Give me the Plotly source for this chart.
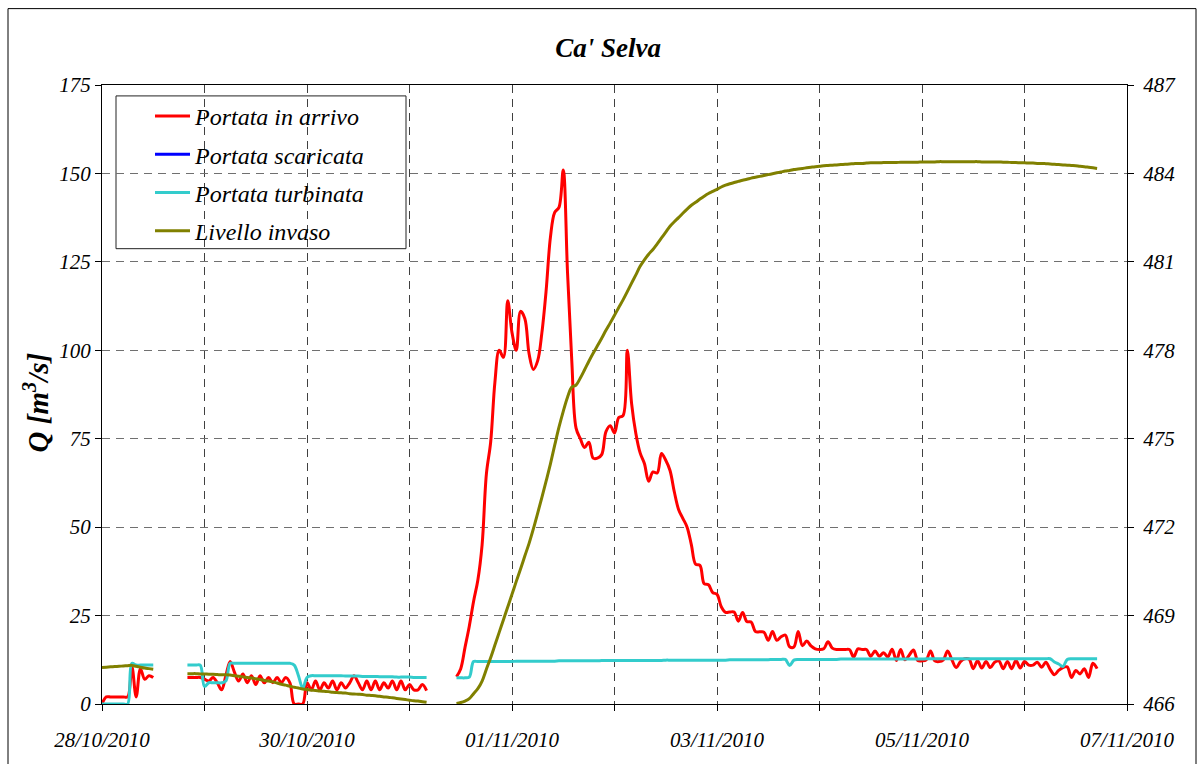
import pandas as pd
import plotly.graph_objects as go

# Hourly records, split into the three continuous recording periods
segment_starts = ["2010-10-28 00:00", "2010-10-28 20:00", "2010-10-31 11:00"]

# Portata in arrivo [m3/s]
q_arrivo_1 = [0, 2, 2, 2, 2, 2, 2, 10.5, 2, 10, 7, 8, 7.5]
q_arrivo_2 = [
    7.5, 7.5, 7.5, 7.5, 7, 6.5, 7.5, 6, 4, 8,
    12, 9, 6.5, 8.5, 6, 8, 5.5, 8, 6, 7.5,
    6, 7.5, 6, 7.5, 6, 0, 0, 0, 6, 4,
    6.5, 4, 6, 4.5, 6.5, 4, 6, 4.5, 6, 8,
    6, 4, 6.5, 4, 6.5, 4, 6, 4.5, 6.5, 4,
    6.5, 4, 5.5, 4, 4, 5.5, 3.8,
]
q_arrivo_3 = [
    7.7, 10, 16, 22, 29, 35, 45, 65, 74, 91,
    100, 98, 114, 105, 100, 111, 109, 99, 94.6, 97,
    105, 117, 132, 139, 140.4, 151, 122, 97, 78, 75,
    72.5, 74, 69.5, 69.5, 70.5, 77, 78.7, 76.6, 81, 81.5,
    100, 85, 76.5, 71, 68, 63, 65.6, 65.3, 70.8, 68.9,
    66, 60, 55, 52.5, 50, 45, 39.5, 39.2, 34, 33.7,
    31.5, 31, 27.5, 25.9, 26, 26, 23.4, 25.9, 23.3, 23.2,
    20.5, 20.4, 20.3, 18, 20.5, 18, 19, 19.5, 16.2, 16.1,
    20.5, 16.5, 17.8, 16.4, 15.6, 15.4, 15.6, 17.6, 15.8, 15.4,
    15.4, 15.4, 15.4, 13.3, 15.6, 15.4, 15.4, 13.5, 15, 13.5,
    14.5, 13.3, 15.5, 12.3, 15.4, 12.5, 13.8, 15.3, 12.3, 12.2,
    12.5, 15, 12.2, 12, 12.5, 15, 12.5, 10.3, 12, 12.8,
    12.7, 10, 12.2, 10.2, 12, 10.3, 11.8, 12.2, 10, 12,
    10, 12.3, 10.2, 12, 11, 11, 11.8, 10.4, 11.8, 9.8,
    8.3, 9.5, 10.3, 10.5, 7.5, 9.5, 8.5, 10, 7.5, 11.5, 10,
]

# Portata scaricata [m3/s]: no discharge recorded in the period
t_scaricata = ["2010-10-28 00:00"]
q_scaricata = [None]

# Portata turbinata [m3/s]
q_turbinata_1 = [0, 0, 0, 0, 0, 0, 0, 11.5, 11, 11, 11, 11, 11]
q_turbinata_2 = [
    11, 11, 11, 11, 5, 6, 6, 6, 6, 6.5,
    11.5, 11.5, 11.5, 11.5, 11.5, 11.5, 11.5, 11.5, 11.5, 11.5,
    11.5, 11.5, 11.5, 11.5, 11.5, 11, 8, 4.5, 7.5, 8,
    8, 8, 8, 8, 8, 8, 8, 7.9, 7.9, 7.9,
    7.9, 7.8, 7.8, 7.8, 7.8, 7.7, 7.7, 7.7, 7.7, 7.6,
    7.6, 7.6, 7.6, 7.5, 7.5, 7.5, 7.5,
]
q_turbinata_3 = [
    7.4, 7.4, 7.4, 7.6, 12.0, 12.0, 12.0, 12.0, 12.0, 12.0,
    12.0, 12.0, 12.0, 12.0, 12.1, 12.1, 12.1, 12.1, 12.1, 12.1,
    12.1, 12.1, 12.1, 12.1, 12.2, 12.2, 12.2, 12.2, 12.2, 12.2,
    12.2, 12.2, 12.2, 12.2, 12.3, 12.3, 12.3, 12.3, 12.3, 12.3,
    12.3, 12.3, 12.3, 12.3, 12.3, 12.3, 12.3, 12.3, 12.3, 12.4,
    12.4, 12.4, 12.4, 12.4, 12.4, 12.4, 12.4, 12.4, 12.4, 12.4,
    12.4, 12.4, 12.4, 12.4, 12.5, 12.5, 12.5, 12.5, 12.5, 12.5,
    12.5, 12.5, 12.5, 12.5, 12.6, 12.6, 12.6, 12.6, 10.9, 12.4,
    12.6, 12.6, 12.6, 12.6, 12.6, 12.6, 12.6, 12.6, 12.6, 12.6,
    12.7, 12.7, 12.7, 12.7, 12.7, 12.7, 12.7, 12.7, 12.7, 12.7,
    12.7, 12.7, 12.7, 12.7, 12.7, 12.7, 12.7, 12.7, 12.7, 12.7,
    12.8, 12.8, 12.8, 12.8, 12.8, 12.8, 12.8, 12.8, 12.8, 12.8,
    12.8, 12.8, 12.8, 12.8, 12.8, 12.8, 12.8, 12.8, 12.8, 12.8,
    12.8, 12.8, 12.8, 12.8, 12.8, 12.8, 12.8, 12.8, 12.8, 12.8,
    11.9, 11.3, 10.6, 12.6, 12.8, 12.8, 12.8, 12.8, 12.8, 12.8, 12.8,
]

# Livello invaso [m s.l.m.]
livello_1 = [467.24, 467.25, 467.26, 467.27, 467.28, 467.29, 467.30,
             467.31, 467.28, 467.25, 467.22, 467.20, 467.18]
livello_2 = [
    467.03, 467.03, 467.03, 467.02, 467.02, 467.01, 467.01, 467.00, 466.99, 466.99,
    466.98, 466.96, 466.94, 466.92, 466.90, 466.88, 466.86, 466.83, 466.80, 466.78,
    466.75, 466.71, 466.67, 466.64, 466.60, 466.57, 466.54, 466.51, 466.49, 466.47,
    466.46, 466.44, 466.43, 466.42, 466.40, 466.39, 466.38, 466.37, 466.35, 466.34,
    466.33, 466.32, 466.30, 466.29, 466.28, 466.26, 466.24, 466.23, 466.21, 466.19,
    466.17, 466.15, 466.13, 466.11, 466.10, 466.08, 466.06,
]
livello_3 = [
    466.02, 466.05, 466.10, 466.18, 466.35, 466.52, 466.78, 467.18, 467.57, 468.00,
    468.43, 468.86, 469.29, 469.72, 470.16, 470.58, 471.02, 471.45, 471.94, 472.47,
    473.01, 473.57, 474.15, 474.78, 475.39, 475.93, 476.41, 476.75, 476.82, 477.06,
    477.34, 477.63, 477.90, 478.15, 478.41, 478.68, 478.93, 479.19, 479.45, 479.71,
    479.99, 480.28, 480.56, 480.85, 481.07, 481.26, 481.42, 481.61, 481.81, 482.01,
    482.21, 482.36, 482.50, 482.65, 482.79, 482.92, 483.02, 483.13, 483.23, 483.32,
    483.39, 483.46, 483.54, 483.60, 483.65, 483.69, 483.73, 483.77, 483.80, 483.84,
    483.87, 483.90, 483.93, 483.96, 483.99, 484.02, 484.05, 484.08, 484.10, 484.13,
    484.15, 484.17, 484.19, 484.21, 484.23, 484.24, 484.26, 484.27, 484.28, 484.29,
    484.30, 484.31, 484.32, 484.33, 484.34, 484.34, 484.35, 484.36, 484.36, 484.36,
    484.37, 484.37, 484.37, 484.37, 484.38, 484.38, 484.38, 484.38, 484.38, 484.39,
    484.39, 484.39, 484.39, 484.40, 484.40, 484.40, 484.40, 484.40, 484.40, 484.40,
    484.40, 484.40, 484.40, 484.39, 484.39, 484.39, 484.39, 484.39, 484.38, 484.38,
    484.37, 484.37, 484.36, 484.36, 484.35, 484.35, 484.34, 484.34, 484.33, 484.32,
    484.31, 484.30, 484.29, 484.28, 484.27, 484.26, 484.24, 484.23, 484.21, 484.19, 484.17,
]

# Axis ticks
day_ticks = pd.date_range("2010-10-28", "2010-11-07", freq="D")
day_labels = [d.strftime("%d/%m/%Y") if i % 2 == 0 else "" for i, d in enumerate(day_ticks)]
q_ticks = [0, 25, 50, 75, 100, 125, 150, 175]
level_ticks = [466, 469, 472, 475, 478, 481, 484, 487]


def join_segments(segments):
    """Hourly timestamps for each segment, with a break between segments."""
    xs, ys = [], []
    for start, vals in zip(segment_starts, segments):
        times = pd.date_range(start, periods=len(vals), freq="h")
        if xs:
            xs.append(times[0] - pd.Timedelta(minutes=30))
            ys.append(None)
        xs.extend(times)
        ys.extend(vals)
    return xs, ys


FONT = "'Liberation Serif', 'Times New Roman', 'DejaVu Serif', serif"

t_arr, v_arr = join_segments([q_arrivo_1, q_arrivo_2, q_arrivo_3])
t_tur, v_tur = join_segments([q_turbinata_1, q_turbinata_2, q_turbinata_3])
t_liv, v_liv = join_segments([livello_1, livello_2, livello_3])

fig = go.Figure()
fig.add_trace(go.Scatter(
    x=t_arr, y=v_arr, mode="lines", name="Portata in arrivo",
    line=dict(color="#FF0000", width=3, shape="spline"), legendgroup="a",
))
fig.add_trace(go.Scatter(
    x=t_scaricata, y=q_scaricata, mode="lines", name="Portata scaricata",
    line=dict(color="#0000FF", width=3), legendgroup="b",
))
fig.add_trace(go.Scatter(
    x=t_tur, y=v_tur, mode="lines", name="Portata turbinata",
    line=dict(color="#33CCCC", width=3, shape="spline"), legendgroup="c",
))
fig.add_trace(go.Scatter(
    x=t_liv, y=v_liv, mode="lines", name="Livello invaso", yaxis="y2",
    line=dict(color="#808000", width=3, shape="spline"), legendgroup="d",
))

tickfont = dict(family=FONT, size=21, color="black", style="italic")

fig.update_layout(
    width=1203, height=764,
    margin=dict(l=102, r=76, t=85, b=55),
    paper_bgcolor="white", plot_bgcolor="white",
    title=dict(
        text="<b><i>Ca' Selva</i></b>", x=0.5055, xanchor="center",
        y=1 - 48 / 764, yanchor="middle",
        font=dict(family=FONT, size=27, color="black"),
    ),
    xaxis=dict(
        type="date", range=["2010-10-28", "2010-11-07"],
        tickvals=day_ticks, ticktext=day_labels,
        ticks="outside", ticklen=6, tickcolor="black", tickwidth=1,
        ticklabelstandoff=11,
        showline=True, linecolor="black", linewidth=1, mirror=True,
        showgrid=True, gridcolor="#404040", gridwidth=1, griddash="8px,6px",
        tickfont=tickfont, zeroline=False,
    ),
    yaxis=dict(
        range=[0, 175], tickvals=q_ticks,
        ticks="outside", ticklen=6, tickcolor="black",
        showline=True, linecolor="black", linewidth=1,
        showgrid=True, gridcolor="#707070", gridwidth=1, griddash="8px,6px",
        tickfont=tickfont, zeroline=False,
    ),
    yaxis2=dict(
        range=[466, 487], tickvals=level_ticks, overlaying="y", side="right",
        ticks="outside", ticklen=6, tickcolor="black",
        showline=True, linecolor="black", linewidth=1,
        showgrid=False, zeroline=False, tickfont=tickfont,
        ticklabelstandoff=5,
    ),
    legend=dict(
        x=(150 - 102) / 1025, y=(709 - 94) / 624, xanchor="left", yanchor="top",
        bgcolor="rgba(0,0,0,0)", borderwidth=0,
        font=dict(family=FONT, size=24, color="black", style="italic"),
        tracegroupgap=4, traceorder="grouped", itemwidth=35,
    ),
    showlegend=True,
    shapes=[
        # legend frame
        dict(type="rect", xref="paper", yref="paper",
             x0=(116 - 102) / 1025, x1=(406 - 102) / 1025,
             y0=(709 - 250) / 624, y1=(709 - 96) / 624,
             line=dict(color="#222222", width=1), fillcolor="white", layer="below"),
        # outer chart frame
        dict(type="rect", xref="paper", yref="paper",
             x0=(8 - 102) / 1025, x1=(1196 - 102) / 1025,
             y0=(709 - 772) / 624, y1=(709 - 8) / 624,
             line=dict(color="black", width=1), fillcolor="rgba(0,0,0,0)"),
    ],
    annotations=[
        dict(text="<b><i>Q [m<sup>3</sup>/s]</i></b>", xref="paper", yref="paper",
             x=(36 - 102) / 1025, y=(709 - 405) / 624, textangle=-90,
             showarrow=False, xanchor="center", yanchor="middle",
             font=dict(family=FONT, size=29, color="black")),
    ],
)

fig.write_html("out.html")
